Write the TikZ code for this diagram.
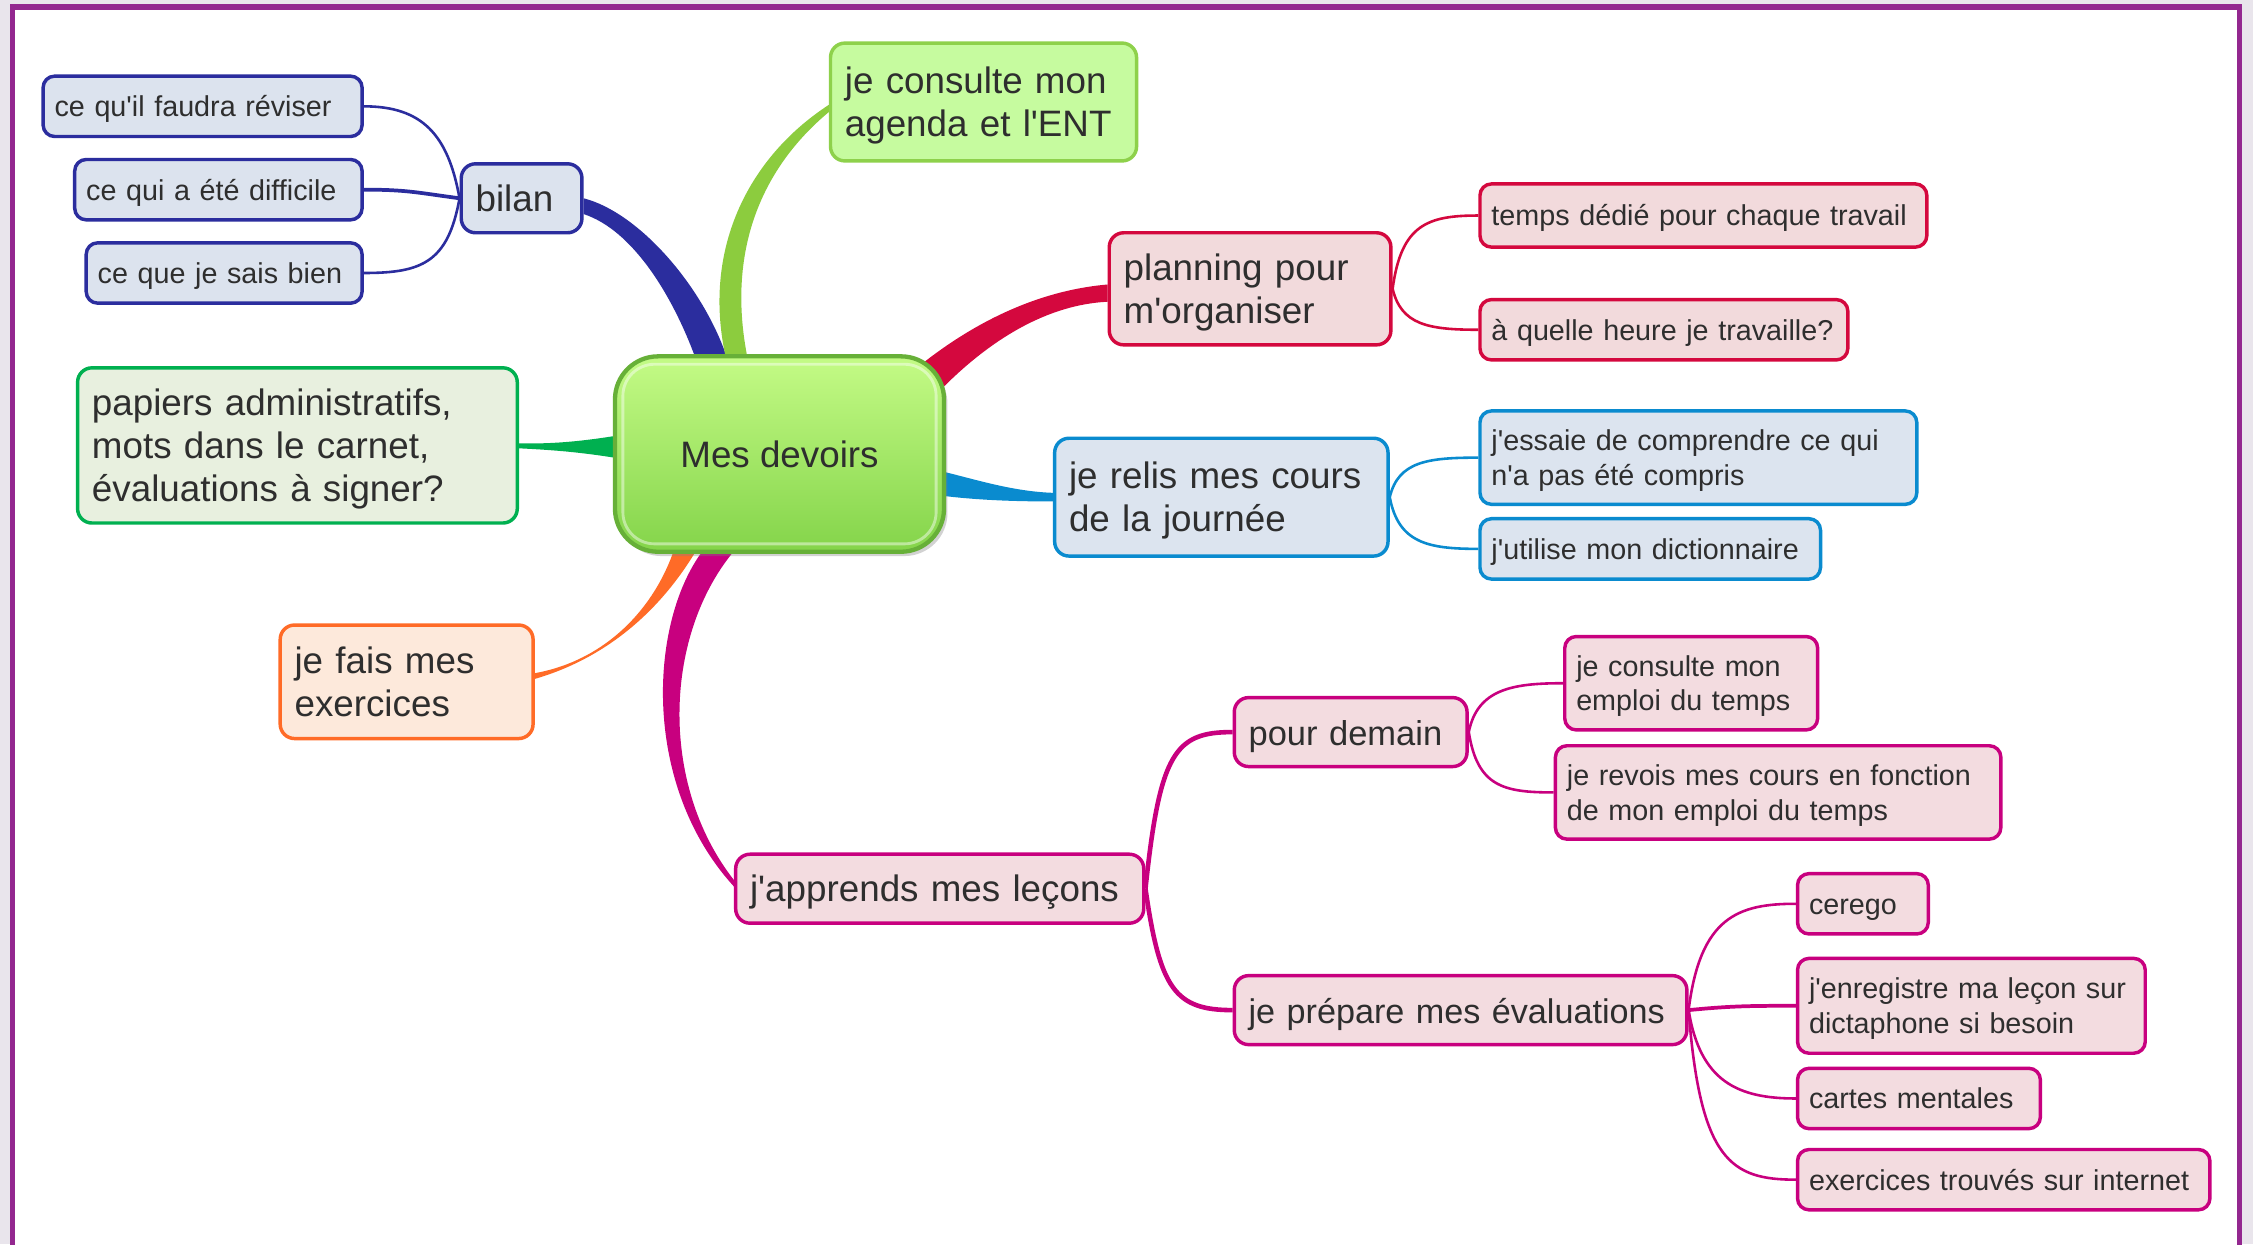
\documentclass[tikz,border=0pt]{standalone}
\usepackage{fontspec}
\setmainfont{Liberation Sans}
\usetikzlibrary{calc,backgrounds,shadows}

\definecolor{ink}{HTML}{2E2E2E}
\definecolor{cadre}{HTML}{93278F}
\definecolor{dehors}{HTML}{E9E5EC}
\definecolor{bleuT}{HTML}{2B2D9E}
\definecolor{bleuF}{HTML}{DCE3EE}
\definecolor{limeT}{HTML}{8ED14B}
\definecolor{limeF}{HTML}{C6FB9F}
\definecolor{limeB}{HTML}{8CCC3E}
\definecolor{vertT}{HTML}{00B050}
\definecolor{vertF}{HTML}{E8F0DF}
\definecolor{rougeT}{HTML}{D4083E}
\definecolor{rougeF}{HTML}{F2DADC}
\definecolor{cielT}{HTML}{0A8BCF}
\definecolor{cielF}{HTML}{DCE4EF}
\definecolor{abricotT}{HTML}{FF6B27}
\definecolor{abricotF}{HTML}{FDE9DB}
\definecolor{roseT}{HTML}{C8007F}
\definecolor{roseF}{HTML}{F3DCE0}
\definecolor{hubA}{HTML}{C4FB86}
\definecolor{hubB}{HTML}{84D44A}
\definecolor{hubR}{HTML}{67B038}

\newcommand{\apos}{\textquotesingle}
\newcommand{\nodestrut}{\rule[-0.2\baselineskip]{0pt}{\baselineskip}}

\tikzset{
  leaf/.style={draw, rounded corners=4pt, line width=1.2pt, text=ink, align=left,
    inner xsep=4pt, inner ysep=1pt, minimum height=21pt,
    font=\fontsize{10}{12}\selectfont,
    execute at begin node=\nodestrut, execute at end node=\nodestrut},
  topic/.style={leaf, rounded corners=5pt, inner xsep=5pt, minimum height=24pt,
    font=\fontsize{12.8}{15}\selectfont},
  hub/.style={rounded corners=15pt, draw=hubR, line width=1.5pt,
    top color=hubA, bottom color=hubB, text=ink,
    minimum width=114.5pt, minimum height=68pt,
    font=\fontsize{12.8}{15}\selectfont,
    drop shadow={shadow xshift=1.2pt, shadow yshift=-1.5pt, opacity=.35}},
  bleu/.style={draw=bleuT, fill=bleuF},
  lime/.style={draw=limeT, fill=limeF},
  vert/.style={draw=vertT, fill=vertF},
  rouge/.style={draw=rougeT, fill=rougeF},
  ciel/.style={draw=cielT, fill=cielF},
  abricot/.style={draw=abricotT, fill=abricotF},
  rose/.style={draw=roseT, fill=roseF},
  twig/.style={line width=.9pt},
  stem/.style={line width=1.6pt},
}

\begin{document}
\begin{tikzpicture}[x=0.5pt, y=-0.5pt]
\useasboundingbox (0,0) rectangle (1568,866);

% centre
\node[hub] (hub) at (542.5,316) {Mes devoirs};
\draw[white, opacity=.45, line width=1pt, rounded corners=11pt]
  ($(hub.north west)+(7,7)$) rectangle ($(hub.south east)+(-7,-7)$);

% bilan
\node[topic, bleu, text width=32pt] (bilan) at (363,138) {bilan};
\node[leaf, bleu, text width=103pt] (revise) at (141,74) {ce qu\apos il faudra réviser};
\node[leaf, bleu, text width=92pt] (hard) at (152,132) {ce qui a été difficile};
\node[leaf, bleu, text width=88pt] (known) at (156,190) {ce que je sais bien};

\node[topic, lime, text width=96.5pt, minimum height=41pt] (agenda) at (684.5,71) {je consulte mon\\agenda et l\apos ENT};
\node[topic, vert, text width=143pt, minimum height=54pt] (papers) at (207,310) {papiers administratifs,\\mots dans le carnet,\\évaluations à signer?};

% planning
\node[topic, rouge, text width=88pt, minimum height=39pt] (planning) at (870,201) {planning pour\\m\apos organiser};
\node[leaf, rouge, text width=147.5pt, minimum height=22pt] (duration) at (1185.5,150) {temps dédié pour chaque travail};
\node[leaf, rouge, text width=120pt] (hour) at (1158,229.5) {à quelle heure je travaille?};

% relire
\node[topic, ciel, text width=106pt, minimum height=41pt] (reread) at (850,346) {je relis mes cours\\de la journée};
\node[leaf, ciel, text width=144pt, minimum height=32.5pt] (understand) at (1182,318.5) {j\apos essaie de comprendre ce qui\\n\apos a pas été compris};
\node[leaf, ciel, text width=110.5pt] (dico) at (1148.5,382) {j\apos utilise mon dictionnaire};

\node[topic, abricot, text width=78pt, minimum height=39.5pt] (exercises) at (283,474.5) {je fais mes\\exercices};

% lecons
\node[topic, rose, text width=132pt] (lessons) at (654,618.5) {j\apos apprends mes leçons};
\node[topic, rose, text width=71pt, font=\fontsize{12}{15}\selectfont] (tomorrow) at (940,509.5) {pour demain};
\node[leaf, rose, text width=80pt, minimum height=32.5pt] (timetable) at (1177,475.5) {je consulte mon\\emploi du temps};
\node[leaf, rose, text width=147pt, minimum height=32.5pt] (review) at (1237.5,551.5) {je revois mes cours en fonction\\de mon emploi du temps};
\node[topic, rose, text width=147.5pt, font=\fontsize{11.9}{15}\selectfont] (prepare) at (1016.5,703) {je prépare mes évaluations};
\node[leaf, rose, text width=37.5pt] (cerego) at (1296.5,629) {cerego};
\node[leaf, rose, text width=113pt, minimum height=33pt] (record) at (1372,700) {j\apos enregistre ma leçon sur\\dictaphone si besoin};
\node[leaf, rose, text width=76.5pt] (maps) at (1335.5,764.5) {cartes mentales};
\node[leaf, rose, text width=135.5pt] (online) at (1394.5,821) {exercices trouvés sur internet};

\begin{pgfonlayer}{background}
  \fill[dehors] (0,0) rectangle (1568,866);
  \draw[cadre, line width=1.8pt, fill=white] (8.7,4.9) rectangle (1558.6,900);

  % branches
  \fill[bleuT] ($(hub.north)+(-58,4)$) .. controls (468,205) and (440,160) .. ($(bilan.east)+(0,11)$)
    -- (bilan.east) .. controls (445,148) and (490,200) .. ($(hub.north)+(-36,4)$) -- cycle;
  \fill[limeB] ($(hub.north)+(-37,4)$) .. controls (488,175) and (520,110) .. ($(agenda.west)+(0,2)$)
    -- ($(agenda.west)+(0,7)$) .. controls (530,117) and (505,175) .. ($(hub.north)+(-22,4)$) -- cycle;
  \fill[vertT] ($(hub.west)+(4,-13)$) .. controls (400,308) and (380,309) .. ($(papers.east)+(0,-1.5)$)
    -- ($(papers.east)+(0,2)$) .. controls (380,313) and (400,314) .. ($(hub.west)+(4,3)$) -- cycle;
  \fill[rougeT] ($(hub.north east)+(-21,10)$) .. controls (680,222) and (725,202) .. ($(planning.west)+(0,-3)$)
    -- ($(planning.west)+(0,9)$) .. controls (730,212) and (690,235) .. ($(hub.north east)+(-5,26)$) -- cycle;
  \fill[cielT] ($(hub.east)+(-3,12)$) .. controls (680,334) and (705,342) .. ($(reread.west)+(0,-3)$)
    -- ($(reread.west)+(0,3)$) .. controls (705,349) and (680,348) .. ($(hub.east)+(-3,29)$) -- cycle;
  \fill[abricotT] ($(hub.south)+(-73,-4)$) .. controls (455,425) and (420,460) .. ($(exercises.east)+(0,-6)$)
    -- ($(exercises.east)+(0,-2)$) .. controls (422,458) and (460,425) .. ($(hub.south)+(-57,-4)$) -- cycle;
  \fill[roseT] ($(hub.south)+(-52,-4)$) .. controls (452,430) and (445,545) .. ($(lessons.west)+(0,-1.5)$)
    -- ($(lessons.west)+(0,-6)$) .. controls (458,545) and (462,440) .. ($(hub.south)+(-30,-4)$) -- cycle;

  % twigs
  \draw[twig, bleuT] (bilan.west) .. controls +(-8,-45) and +(40,0) .. (revise.east);
  \draw[twig, bleuT, line width=1.3pt] (bilan.west) .. controls +(-30,-4) and +(30,0) .. (hard.east);
  \draw[twig, bleuT] (bilan.west) .. controls +(-8,45) and +(40,0) .. (known.east);
  \draw[twig, rougeT] (planning.east) .. controls +(6,-45) and +(-35,0) .. (duration.west);
  \draw[twig, rougeT] (planning.east) .. controls +(6,25) and +(-35,0) .. (hour.west);
  \draw[twig, cielT] (reread.east) .. controls +(6,-25) and +(-35,0) .. (understand.west);
  \draw[twig, cielT] (reread.east) .. controls +(6,32) and +(-35,0) .. (dico.west);
  \draw[stem, roseT] (lessons.east) .. controls +(10,-95) and +(-40,0) .. (tomorrow.west);
  \draw[stem, roseT] (lessons.east) .. controls +(10,70) and +(-40,0) .. (prepare.west);
  \draw[twig, roseT] (tomorrow.east) .. controls +(6,-30) and +(-35,0) .. (timetable.west);
  \draw[twig, roseT] (tomorrow.east) .. controls +(6,38) and +(-35,0) .. (review.west);
  \draw[twig, roseT] (prepare.east) .. controls +(8,-65) and +(-40,0) .. (cerego.west);
  \draw[twig, roseT, line width=1.3pt] (prepare.east) .. controls +(30,-3) and +(-30,0) .. (record.west);
  \draw[twig, roseT] (prepare.east) .. controls +(8,50) and +(-40,0) .. (maps.west);
  \draw[twig, roseT] (prepare.east) .. controls +(8,105) and +(-45,0) .. (online.west);
\end{pgfonlayer}
\end{tikzpicture}
\end{document}
